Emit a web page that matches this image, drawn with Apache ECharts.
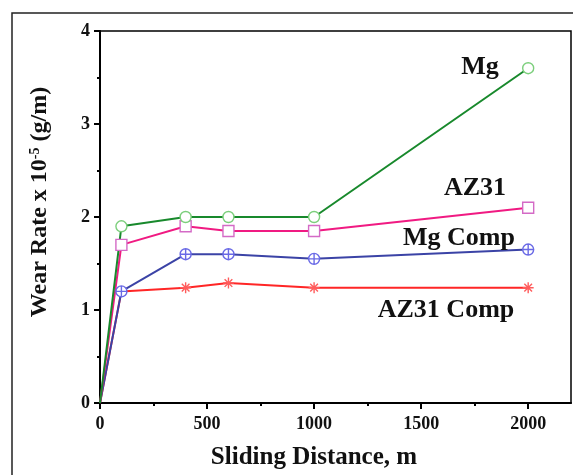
<!DOCTYPE html>
<html>
<head>
<meta charset="utf-8">
<script src="https://cdn.jsdelivr.net/npm/echarts@6/dist/echarts.min.js"></script>
<style>
html,body{margin:0;padding:0;background:#fff;}
#chart{width:573px;height:475px;}
</style>
</head>
<body>
<div id="chart"></div>
<script>
// ---- data ----
const slidingDistance = [0, 100, 400, 600, 1000, 2000];
const mgRate = [0, 1.9, 2.0, 2.0, 2.0, 3.6];
const az31Rate = [0, 1.7, 1.9, 1.85, 1.85, 2.1];
const mgCompRate = [0, 1.2, 1.6, 1.6, 1.55, 1.65];
const az31CompRate = [0, 1.2, 1.24, 1.29, 1.24, 1.24];
const seriesNames = ['Mg', 'AZ31', 'Mg Comp', 'AZ31 Comp'];
const xMajorTicks = [0, 500, 1000, 1500, 2000];
const xMinorTicks = [250, 750, 1250, 1750];
const yTicks = [0, 1, 2, 3, 4];

const FONT = '"Liberation Serif", "Times New Roman", serif';

function pairs(ys) {
  return slidingDistance.map((x, i) => [x, ys[i]]);
}
const symSize = (v) => (v[0] === 0 ? 0 : 11);

function lineSeries(name, ys, lineColor, markColor, symbol) {
  return {
    name: name,
    type: 'line',
    xAxisIndex: 0,
    yAxisIndex: 0,
    data: pairs(ys),
    symbol: symbol,
    symbolSize: symSize,
    lineStyle: { color: lineColor, width: 2 },
    itemStyle: { color: '#fff', borderColor: markColor, borderWidth: 1.4 },
    emphasis: { disabled: true },
    animation: false,
    z: 3
  };
}

const circlePlus = 'path://M10,0A10,10,0,1,1,10,20A10,10,0,1,1,10,0Z M10,0L10,20 M0,10L20,10';
const asterisk = 'path://M10,0L10,20 M0,10L20,10 M3,3L17,17 M17,3L3,17';

const gridBox = { left: 100, top: 31, right: 2, bottom: 72 };

const chart = echarts.init(document.getElementById('chart'), null, { renderer: 'canvas' });
chart.setOption({
  backgroundColor: '#fff',
  animation: false,
  textStyle: { fontFamily: FONT },
  grid: [
    Object.assign({ show: true, borderColor: '#000', borderWidth: 1.5, backgroundColor: 'transparent' }, gridBox),
    Object.assign({ show: false }, gridBox)
  ],
  xAxis: [{
    gridIndex: 0, type: 'value', min: 0, max: 2200,
    axisLine: { show: true, onZero: false, lineStyle: { color: '#000', width: 2 } },
    axisTick: { show: true, length: 6, customValues: xMajorTicks, lineStyle: { color: '#000', width: 2 } },
    axisLabel: { customValues: xMajorTicks, margin: 12, color: '#111', fontFamily: FONT, fontWeight: 'bold', fontSize: 18,
      formatter: (v) => String(v) },
    splitLine: { show: false }
  }, {
    gridIndex: 1, type: 'value', min: 0, max: 2200, position: 'bottom',
    axisLine: { show: false, onZero: false },
    axisTick: { show: true, length: 3, customValues: xMinorTicks, lineStyle: { color: '#000', width: 2 } },
    axisLabel: { show: false, customValues: xMinorTicks },
    splitLine: { show: false }
  }],
  yAxis: [{
    gridIndex: 0, type: 'value', min: 0, max: 4, interval: 1,
    axisLine: { show: true, lineStyle: { color: '#000', width: 2 } },
    axisTick: { show: true, length: 6, lineStyle: { color: '#000', width: 2 } },
    minorTick: { show: true, splitNumber: 2, length: 3, lineStyle: { color: '#000', width: 2 } },
    axisLabel: { margin: 10, color: '#111', fontFamily: FONT, fontWeight: 'bold', fontSize: 18 },
    splitLine: { show: false }
  }, {
    gridIndex: 1, type: 'value', min: 0, max: 4, show: false
  }],
  series: [
    lineSeries(seriesNames[3], az31CompRate, '#ff2626', '#ff5c5c', asterisk),
    lineSeries(seriesNames[2], mgCompRate, '#3b43a6', '#6a6ae6', circlePlus),
    lineSeries(seriesNames[1], az31Rate, '#f01a82', '#d46ac6', 'rect'),
    lineSeries(seriesNames[0], mgRate, '#18892c', '#7ccf7c', 'circle')
  ],
  graphic: [
    { type: 'rect', shape: { x: 12, y: 13, width: 700, height: 600 }, style: { fill: 'none', stroke: '#222', lineWidth: 1.5 }, silent: true, z: 0 },
    { type: 'text', x: 480, y: 67, style: { text: seriesNames[0], font: 'bold 26px ' + FONT, fill: '#111', align: 'center', verticalAlign: 'middle' }, z: 10 },
    { type: 'text', x: 475, y: 188, style: { text: seriesNames[1], font: 'bold 26px ' + FONT, fill: '#111', align: 'center', verticalAlign: 'middle' }, z: 10 },
    { type: 'text', x: 459, y: 238, style: { text: seriesNames[2], font: 'bold 26px ' + FONT, fill: '#111', align: 'center', verticalAlign: 'middle' }, z: 10 },
    { type: 'text', x: 446, y: 310, style: { text: seriesNames[3], font: 'bold 26px ' + FONT, fill: '#111', align: 'center', verticalAlign: 'middle' }, z: 10 },
    { type: 'text', x: 314, y: 458, style: { text: 'Sliding Distance, m', font: 'bold 25px ' + FONT, fill: '#111', align: 'center', verticalAlign: 'middle' }, z: 10 },
    { type: 'text', x: 40, y: 202, rotation: Math.PI / 2,
      style: {
        text: 'Wear Rate x 10{sup|-5} (g/m)', fill: '#111', align: 'center', verticalAlign: 'middle',
        fontFamily: FONT, fontWeight: 'bold', fontSize: 24,
        rich: {
          sup: { fontFamily: FONT, fontWeight: 'bold', fontSize: 14, fill: '#111', verticalAlign: 'top', padding: [0, 0, 10, 0] }
        }
      }, z: 10 }
  ]
});
</script>
</body>
</html>
